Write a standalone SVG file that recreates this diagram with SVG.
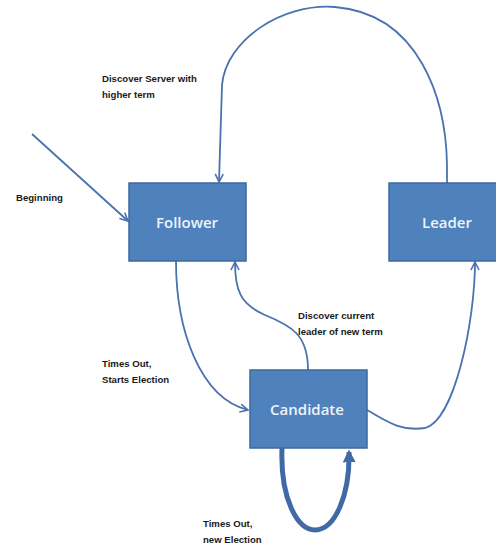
<svg xmlns="http://www.w3.org/2000/svg" width="496" height="550" viewBox="0 0 496 550">
  <defs>
    <marker id="open" viewBox="0 0 10 10" refX="9" refY="5" markerWidth="10" markerHeight="10" markerUnits="userSpaceOnUse" orient="auto">
      <path d="M1,1 L9,5 L1,9" fill="none" stroke="#4a72ae" stroke-width="1.6"/>
    </marker>
    <marker id="solid" viewBox="0 0 10 10" refX="8" refY="5" markerWidth="2.6" markerHeight="2.6" orient="auto">
      <path d="M0,0 L10,5 L0,10 Z" fill="#3f6aa6"/>
    </marker>
    <style>
      .box { fill: #4f81bd; stroke: #3d6a9e; stroke-width: 1.5; }
      .boxlabel { font-family: "Open Sans", "Liberation Sans", sans-serif; font-weight: 600; font-size: 15px; fill: #eef3fa; text-anchor: middle; }
      .label { font-family: "Liberation Sans", Arial, sans-serif; font-weight: bold; font-size: 9.6px; fill: #1a1a1a; }
      .edge { fill: none; stroke: #4a72ae; stroke-width: 1.8; }
      .thick { fill: none; stroke: #3f6aa6; stroke-width: 5; }
    </style>
  </defs>
  <rect width="496" height="550" fill="#ffffff"/>

  <g id="connectors">
    <!-- initial entry -->
    <path class="edge" d="M32,134 L128,221" marker-end="url(#open)"/>
    <!-- leader steps down -->
    <path class="edge" d="M447,183 L447,165 C446,100 420,14 335,7 C282,3 226,40 222,85 L219,182" marker-end="url(#open)"/>
    <!-- follower times out -->
    <path class="edge" d="M176,261 C176,330 200,398 248,410" marker-end="url(#open)"/>
    <!-- candidate sees current leader -->
    <path class="edge" d="M308,370 C308,335 292,326 265,315 C240,304 235,290 235,262" marker-end="url(#open)"/>
    <!-- candidate wins election -->
    <path class="edge" d="M367,410 C385,420 400,432 425,428 C455,420 475,320 475,262" marker-end="url(#open)"/>
    <!-- split vote, new election -->
    <path class="thick" d="M282,448 C280,500 298,530 315,530 C335,530 350,495 349,452" marker-end="url(#solid)"/>
  </g>

  <g id="follower">
    <rect class="box" x="129" y="183" width="117" height="78"/>
    <text class="boxlabel" x="187" y="228">Follower</text>
  </g>

  <g id="leader">
    <rect class="box" x="389" y="183" width="110" height="78"/>
    <text class="boxlabel" x="447" y="228">Leader</text>
  </g>

  <g id="candidate">
    <rect class="box" x="250" y="370" width="117" height="78"/>
    <text class="boxlabel" x="307" y="415">Candidate</text>
  </g>

  <g id="labels">
    <text class="label" x="102" y="82">Discover Server with</text>
    <text class="label" x="102" y="98">higher term</text>
    <text class="label" x="16" y="201">Beginning</text>
    <text class="label" x="298" y="319">Discover current</text>
    <text class="label" x="298" y="335">leader of new term</text>
    <text class="label" x="102" y="367">Times Out,</text>
    <text class="label" x="102" y="383">Starts Election</text>
    <text class="label" x="203" y="527">Times Out,</text>
    <text class="label" x="203" y="543">new Election</text>
  </g>
</svg>
